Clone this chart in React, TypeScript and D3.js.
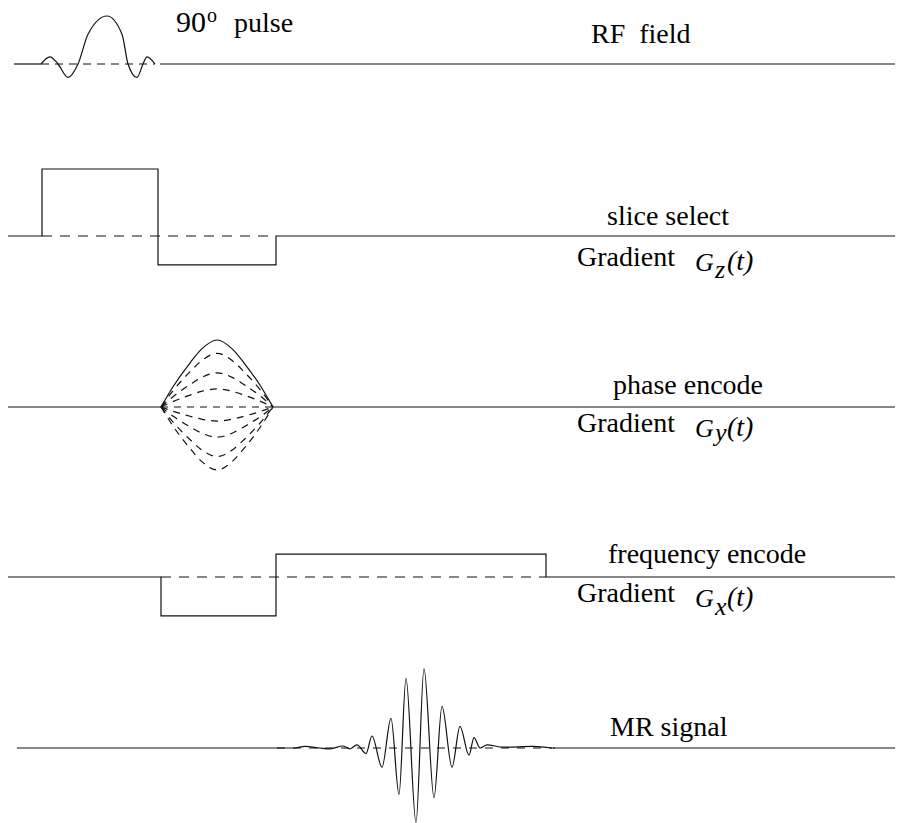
import React from "react";
import { scaleLinear, line, curveMonotoneX, curveStepAfter } from "d3";

const width = 897;
const height = 823;

// time axis (arbitrary units), amplitude normalised to each channel
const rfPulse: [number, number][] = [
  [4.1, 0], [5.0, 0.15], [5.8, 0], [6.8, -0.28], [7.8, 0], [8.8, 0.62],
  [10.7, 1], [12.2, 0.62], [12.8, 0], [13.7, -0.28], [14.3, 0], [14.7, 0.15], [15.5, 0],
];
const sliceSteps: [number, number][] = [
  [0.8, 0], [4.2, 1], [15.8, -0.43], [27.6, 0], [89.5, 0],
];
const phaseWindow = [16.1, 27.3];
const phaseLevels = [1, 0.8, 0.51, 0.27, 0, -0.21, -0.45, -0.74, -0.94];
const phaseShapePos = [0, 0.11, 0.26, 0.36, 0.5, 0.64, 0.74, 0.89, 1];
const phaseShapeVal = [0, 0.31, 0.66, 0.86, 1, 0.86, 0.66, 0.31, 0];
const freqSteps: [number, number][] = [
  [0.8, 0], [16.1, -0.58], [27.6, 0.34], [54.6, 0], [89.5, 0],
];
const echo: [number, number][] = [
  [27.7, 0], [29.5, 0], [30.5, 0.02], [32.0, 0], [33.0, -0.01], [34.3, 0.025],
  [35.0, -0.01], [35.7, 0.04], [36.6, -0.07], [37.2, 0.15], [38.2, -0.24],
  [39.1, 0.37], [39.9, -0.58], [40.6, 0.87], [41.6, -0.93], [42.4, 0.99],
  [43.4, -0.62], [44.2, 0.52], [45.2, -0.24], [46.0, 0.27], [46.9, -0.09],
  [47.4, 0.13], [48.0, 0], [48.7, 0.04], [50.3, 0.01], [53.3, 0.02], [55.2, 0],
];

const x = scaleLinear().domain([0, 90]).range([0, 900]);
const rowScale = (base: number, amp: number) =>
  scaleLinear().domain([-1, 1]).range([base + amp, base - amp]);

const yRF = rowScale(64, 48);
const yZ = rowScale(236, 67);
const yY = rowScale(407, 67);
const yX = rowScale(577, 67);
const yMR = rowScale(748, 80);

const ink = "#111";
const font = "Liberation Serif";

const Seg = ({ t0, t1, y, dash }: { t0: number; t1: number; y: number; dash?: string }) => (
  <line x1={x(t0)} x2={x(t1)} y1={y} y2={y} stroke={ink} strokeWidth={1.2} strokeDasharray={dash} />
);

const Label = ({ x: lx, y: ly, children, size = 28, italic = false }: any) => (
  <text x={lx} y={ly} fill="#000" fontFamily={font} fontSize={size}
    fontStyle={italic ? "italic" : "normal"} style={{ whiteSpace: "pre" }}>
    {children}
  </text>
);

const GradLabel = ({ y, sub, subDy }: { y: number; sub: string; subDy: number }) => (
  <g>
    <Label x={577} y={y}>Gradient</Label>
    <Label x={695} y={y + 5} size={26} italic>G</Label>
    <Label x={715} y={y + 5 + subDy} size={26} italic>{sub}</Label>
    <Label x={727} y={y + 4} italic>(t)</Label>
  </g>
);

export default function App() {
  const curve = (ys: any) =>
    line<[number, number]>().x((d) => x(d[0])).y((d) => ys(d[1])).curve(curveMonotoneX);
  const step = (ys: any) =>
    line<[number, number]>().x((d) => x(d[0])).y((d) => ys(d[1])).curve(curveStepAfter);

  const phaseLobe = (level: number) =>
    phaseShapePos.map((p, i) => [
      phaseWindow[0] + p * (phaseWindow[1] - phaseWindow[0]),
      phaseShapeVal[i] * level,
    ]) as [number, number][];

  return (
    <svg width={width} height={height} style={{ position: "absolute", left: 0, top: 0, background: "#fff" }}>
      {/* RF field */}
      <Seg t0={1.4} t1={4.1} y={yRF(0)} />
      <Seg t0={4.1} t1={15.5} y={yRF(0)} dash="8 6" />
      <Seg t0={16.0} t1={89.5} y={yRF(0)} />
      <path d={curve(yRF)(rfPulse) ?? ""} fill="none" stroke={ink} strokeWidth={1.2} />
      <Label x={176} y={32} size={30}>90</Label>
      <Label x={207} y={22} size={20}>o</Label>
      <Label x={234} y={32}>pulse</Label>
      <Label x={591} y={43}>{"RF  field"}</Label>

      {/* slice select */}
      <Seg t0={4.2} t1={27.6} y={yZ(0)} dash="10 8" />
      <path d={step(yZ)(sliceSteps) ?? ""} fill="none" stroke={ink} strokeWidth={1.2} />
      <Label x={607} y={225}>slice select</Label>
      <GradLabel y={266} sub="z" subDy={7} />

      {/* phase encode */}
      <Seg t0={0.8} t1={phaseWindow[0]} y={yY(0)} />
      <Seg t0={phaseWindow[1]} t1={89.5} y={yY(0)} />
      {phaseLevels.map((lv, i) => (
        <path key={i} d={curve(yY)(phaseLobe(lv)) ?? ""} fill="none" stroke={ink}
          strokeWidth={1.2} strokeDasharray={i === 0 ? undefined : "7 6"} />
      ))}
      <Label x={613} y={394}>phase encode</Label>
      <GradLabel y={432} sub="y" subDy={4} />

      {/* frequency encode */}
      <Seg t0={16.1} t1={54.6} y={yX(0)} dash="10 8" />
      <path d={step(yX)(freqSteps) ?? ""} fill="none" stroke={ink} strokeWidth={1.2} />
      <Label x={608} y={563}>frequency encode</Label>
      <GradLabel y={602} sub="x" subDy={8} />

      {/* MR signal */}
      <Seg t0={1.7} t1={27.7} y={yMR(0)} />
      <Seg t0={27.7} t1={55.5} y={yMR(0)} dash="8 8" />
      <Seg t0={55.3} t1={89.5} y={yMR(0)} />
      <path d={curve(yMR)(echo) ?? ""} fill="none" stroke={ink} strokeWidth={1.2} />
      <Label x={610} y={736}>MR signal</Label>
    </svg>
  );
}
